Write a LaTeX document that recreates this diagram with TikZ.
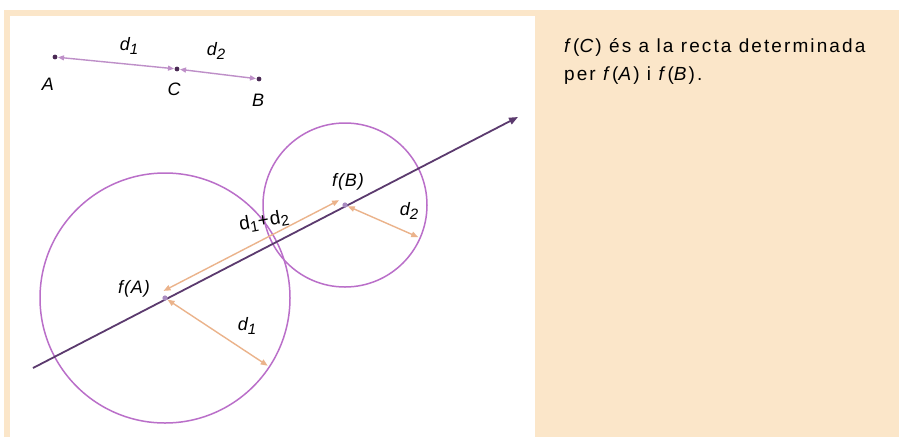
\documentclass[tikz,border=0pt]{standalone}
\usepackage{fontspec}
\setmainfont{Liberation Sans}
\usetikzlibrary{arrows.meta,positioning,calc}
\definecolor{fbeige}{HTML}{FBE6C9}
\definecolor{fcircle}{HTML}{BA6FC9}
\definecolor{fline}{HTML}{5B3A6E}
\definecolor{forange}{HTML}{EBB38B}
\definecolor{fseg}{HTML}{BE8FC8}
\definecolor{fdot}{HTML}{4B2A55}
\definecolor{fimg}{HTML}{A88BC0}
\newcommand{\dsub}[2]{#1\raisebox{-0.35ex}{\fontsize{15}{15}\selectfont #2}}

\begin{document}
\begin{tikzpicture}[x=1pt, y=-1pt,
  lbl/.style={font=\addfontfeature{LetterSpace=5}\fontsize{18}{20}\selectfont\itshape, inner sep=0pt},
  seg/.style={fseg, line width=1.4pt, {Triangle[length=6pt,width=5pt]}-{Triangle[length=6pt,width=5pt]}, shorten <=3pt, shorten >=3pt},
  dist/.style={forange, line width=1.4pt, {Triangle[length=7pt,width=5.5pt]}-{Triangle[length=7pt,width=5.5pt]}, shorten <=3pt, shorten >=2pt},
  circ/.style={fcircle, line width=1.5pt}]
  \useasboundingbox (0,0) rectangle (899,437);
  \fill[fbeige] (4,10) rectangle (899,437);
  \fill[white] (10,16) rectangle (535,437);

  % segment A C B
  \coordinate (A) at (55,57);
  \coordinate (C) at (177,69);
  \coordinate (B) at (259,79);
  \draw[seg] (C) -- (A);
  \draw[seg] (C) -- (B);
  \foreach \p in {A,C,B} \fill[fdot] (\p) circle (2.4pt);
  \node[lbl] (labA) at (48,84) {A};
  \node[lbl] (labC) at (174,89) {C};
  \node[lbl] (labB) at (258,100) {B};
  \node[lbl] (d1top) at (129,46) {\dsub{d}{1}};
  \node[lbl] (d2top) at (216,51) {\dsub{d}{2}};

  % images and circles
  \coordinate (fA) at (165,298);
  \coordinate (fB) at (345,205);
  \draw[circ] (fA) circle (125);
  \draw[circ] (fB) circle (82);
  \coordinate (start) at (33,368);
  \coordinate (end) at (518,117);
  \draw[fline, line width=1.8pt, -{Triangle[length=9pt,width=7pt]}] (start) -- (end);
  \foreach \p in {fA,fB} \fill[fimg] (\p) circle (2.6pt);

  % distances
  \coordinate (fAo) at ($(fA)+(-3.2,-6.2)$);
  \coordinate (fBo) at ($(fB)+(-3.2,-6.2)$);
  \draw[dist] (fBo) -- (fAo);
  \coordinate (rA) at ($(fA)+(33.4:125)$);
  \coordinate (rB) at ($(fB)+(23.7:82)$);
  \draw[dist] (fA) -- (rA);
  \draw[dist] (fB) -- (rB);

  \node[lbl] (labfA) at (134,289) {f(A)};
  \node[lbl] (labfB) at (348,182) {f(B)};
  \node[lbl] (d1low) at (247,326) {\dsub{d}{1}};
  \node[lbl] (d2low) at (409,211) {\dsub{d}{2}};
  \node[font=\addfontfeature{LetterSpace=5}\fontsize{19}{20}\selectfont, inner sep=0pt, rotate=10] (dsum) at (264,221) {\dsub{d}{1}+\dsub{d}{2}};

  \node[anchor=north west, align=left, inner sep=0pt,
    font=\addfontfeature{LetterSpace=11}\fontsize{19}{28}\selectfont] (txt) at (564,38)
    {\textit{f}(\textit{C}) és a la recta determinada\\per \textit{f}(\textit{A}) i \textit{f}(\textit{B}).};
\end{tikzpicture}
\end{document}
